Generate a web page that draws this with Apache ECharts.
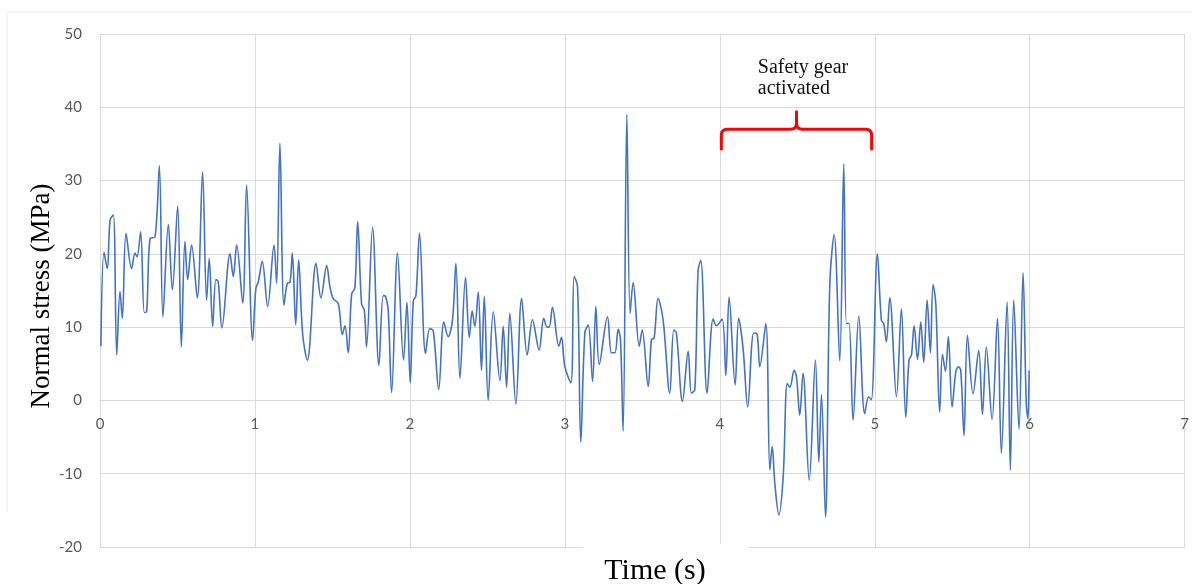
<!DOCTYPE html>
<html><head><meta charset="utf-8">
<script src="https://cdn.jsdelivr.net/npm/echarts@6/dist/echarts.min.js"></script>
<style>html,body{margin:0;padding:0;background:#fff}#c{width:1192px;height:584px}</style>
</head><body><div id="c"></div>
<script>
const timeS = [0.006,0.026,0.047,0.065,0.086,0.108,0.129,0.144,0.168,0.204,0.226,0.239,0.262,0.286,0.301,0.323,0.355,0.383,0.406,0.441,0.467,0.501,0.525,0.548,0.566,0.591,0.628,0.662,0.688,0.705,0.727,0.748,0.763,0.787,0.839,0.860,0.882,0.921,0.946,0.985,1.006,1.022,1.047,1.082,1.123,1.140,1.161,1.187,1.209,1.226,1.241,1.263,1.282,1.308,1.338,1.394,1.426,1.463,1.484,1.505,1.538,1.564,1.581,1.602,1.624,1.645,1.663,1.688,1.706,1.720,1.759,1.800,1.828,1.843,1.860,1.882,1.920,1.959,1.981,2.002,2.022,2.039,2.062,2.101,2.129,2.151,2.186,2.219,2.247,2.275,2.297,2.323,2.359,2.383,2.402,2.419,2.441,2.462,2.480,2.505,2.538,2.581,2.602,2.624,2.645,2.684,2.721,2.757,2.791,2.834,2.864,2.886,2.899,2.920,2.961,2.978,3.000,3.039,3.060,3.082,3.103,3.129,3.151,3.179,3.200,3.222,3.275,3.301,3.323,3.344,3.359,3.376,3.400,3.421,3.441,3.480,3.499,3.538,3.559,3.576,3.602,3.634,3.677,3.703,3.720,3.759,3.796,3.817,3.839,3.860,3.877,3.918,3.957,3.978,4.015,4.039,4.060,4.099,4.122,4.151,4.180,4.219,4.241,4.258,4.297,4.323,4.338,4.355,4.381,4.409,4.435,4.452,4.480,4.495,4.516,4.537,4.577,4.617,4.639,4.656,4.682,4.710,4.738,4.774,4.800,4.817,4.834,4.860,4.897,4.935,4.961,4.978,5.017,5.043,5.058,5.075,5.097,5.140,5.172,5.200,5.221,5.237,5.254,5.276,5.297,5.316,5.338,5.359,5.376,5.394,5.419,5.437,5.456,5.475,5.499,5.523,5.540,5.555,5.576,5.598,5.634,5.671,5.695,5.720,5.757,5.792,5.817,5.854,5.875,5.897,5.931,5.957,5.978,5.989,5.996];
const stressMPa = [7.4,20.2,18,24.6,25.3,6.2,14.9,11.2,22.8,18,20.1,19.6,23,12,12.1,22.1,22.3,32,11.4,24,15.1,26.5,7.3,21.7,16.5,21.2,14,31.2,13.7,19.4,10.1,16.5,16.2,9.9,20,16.9,21.2,13.3,29.4,8.2,15.3,16.2,19,12.8,21.2,16,35.1,13,16,16.1,20.1,10.3,19.2,9,5.5,18.7,14,18.4,15.5,13.9,13.2,9,10.2,6.5,14.5,15.4,24.4,13.2,12.3,7.3,23.6,4.8,14.3,14.2,12.3,1.1,20.1,5.5,13.4,2.4,13.6,14.3,22.8,6.4,9.8,9.5,1.5,10.7,8.7,11,18.7,3,16.8,8.6,12.2,10.1,14.8,4.1,14.2,0,12.1,2.7,10.1,1.8,11.9,-0.5,13.9,6.2,11,6.9,11.2,10,10,12.7,7.4,8.6,4.6,2.4,16.9,15.5,-5.7,9.2,10.3,2.6,12.8,4.9,11.4,6.5,6.5,9.7,8.3,-4.2,39,11.9,16.1,7.4,9.6,1.9,8.3,8.5,13.9,11,1,9.6,9.2,-0.1,6.7,1,1.5,17.8,19.1,1,11.1,10.2,11.1,3.4,14.1,2.1,11.2,6.9,-0.9,9.2,9,4.6,10.5,-9.5,-6.3,-11.3,-15.6,-10.4,2.3,1.8,4.1,3.2,-2,3.7,-10.9,5.5,-8.4,0.8,-15.9,15.9,22.6,5.4,32.3,10.5,10.5,-2.7,11.5,-1.8,0.5,0.1,20,10.9,10.5,8,14,0.5,12.5,-2.3,5.5,6.2,10.2,5.6,10.7,5.2,13.7,6.5,15.8,13.2,-1.6,6.3,4,8.7,-0.9,3.9,4.6,4.1,-4.8,8.9,0.9,6.8,-1.9,7.3,-2.6,11.2,-7.2,13.4,-9.5,13.7,-3.9,17.4,-0.5,-2.5,4.1];
const xRange = [0, 7];
const yRange = [-20, 50];
const braceRange = [4.01, 4.98];
const braceLevels = [34.3, 37, 39.4];
const annotationText = 'Safety gear\nactivated';
const annotationAnchor = [4.245, 46.8];
const xTitle = 'Time (s)';
const yTitle = 'Normal stress (MPa)';

const W = 1192, H = 584;
const gridBox = {left: 100, right: 7, top: 34, bottom: 37};
const plotH = H - gridBox.top - gridBox.bottom;
// x axis crosses the y axis at value 0
const xAxisOffset = -plotH * (0 - yRange[0]) / (yRange[1] - yRange[0]);

const chart = echarts.init(document.getElementById('c'), null, {renderer: 'canvas'});
const gridCol = '#d9d9d9';
const labelStyle = {color: '#595959', fontFamily: 'Lato, "Open Sans", sans-serif', fontSize: 15};

function renderBrace(params, api) {
  const L = api.coord([braceRange[0], braceLevels[1]]);
  const R = api.coord([braceRange[1], braceLevels[1]]);
  const yb = api.coord([braceRange[0], braceLevels[0]])[1];
  const yt = api.coord([braceRange[0], braceLevels[2]])[1];
  const yh = L[1];
  const M = (L[0] + R[0]) / 2;
  const r = 6;
  const d = `M${L[0]},${yb} L${L[0]},${yh + r} Q${L[0]},${yh} ${L[0] + r},${yh} L${M - r},${yh} Q${M},${yh} ${M},${yh - r} L${M},${yt} M${M},${yh - r} Q${M},${yh} ${M + r},${yh} L${R[0] - r},${yh} Q${R[0]},${yh} ${R[0]},${yh + r} L${R[0]},${yb}`;
  return {type: 'path', shape: {pathData: d}, style: {stroke: '#ff0000', lineWidth: 3, fill: null, lineCap: 'round', lineJoin: 'round'}};
}

chart.setOption({
  animation: false,
  backgroundColor: '#fff',
  grid: Object.assign({containLabel: false}, gridBox),
  xAxis: {
    type: 'value', min: xRange[0], max: xRange[1], interval: 1,
    position: 'bottom', offset: xAxisOffset,
    axisLine: {show: true, onZero: false, lineStyle: {color: gridCol, width: 1}},
    axisTick: {show: false},
    axisLabel: Object.assign({margin: 16}, labelStyle),
    splitLine: {show: true, lineStyle: {color: gridCol, width: 1}}
  },
  yAxis: {
    type: 'value', min: yRange[0], max: yRange[1], interval: 10,
    axisLine: {show: false}, axisTick: {show: false},
    axisLabel: Object.assign({margin: 18}, labelStyle),
    splitLine: {show: true, lineStyle: {color: gridCol, width: 1}}
  },
  series: [{
    type: 'line',
    data: timeS.map((t, i) => [t, stressMPa[i]]),
    showSymbol: false, smooth: 0.35,
    lineStyle: {color: '#4472c4', width: 1.6},
    z: 3
  }, {
    type: 'custom', silent: true, z: 5,
    data: [[braceRange[0], braceLevels[1]]],
    renderItem: renderBrace
  }]
});

const ta = chart.convertToPixel({gridIndex: 0}, annotationAnchor);

chart.setOption({
  graphic: [
    {type: 'polyline', z: 0, silent: true, shape: {points: [[7, 512], [7, 12], [1192, 12]]}, style: {stroke: '#ececec', lineWidth: 1, fill: null}},
    {type: 'text', z: 100, x: ta[0], y: ta[1], style: {text: annotationText, font: '20px "Liberation Serif", serif', fill: '#111', lineHeight: 21, align: 'left', verticalAlign: 'top'}},
    {type: 'rect', z: 99, shape: {x: 583, y: 544, width: 165, height: 40}, style: {fill: '#fff'}},
    {type: 'text', z: 100, x: 655, y: 571, style: {text: xTitle, font: '30px "Liberation Serif", serif', fill: '#000', align: 'center', verticalAlign: 'middle'}},
    {type: 'text', z: 100, x: 42, y: 296, rotation: Math.PI / 2, style: {text: yTitle, font: '27px "Liberation Serif", serif', fill: '#000', align: 'center', verticalAlign: 'middle'}}
  ]
});
</script>
</body></html>
